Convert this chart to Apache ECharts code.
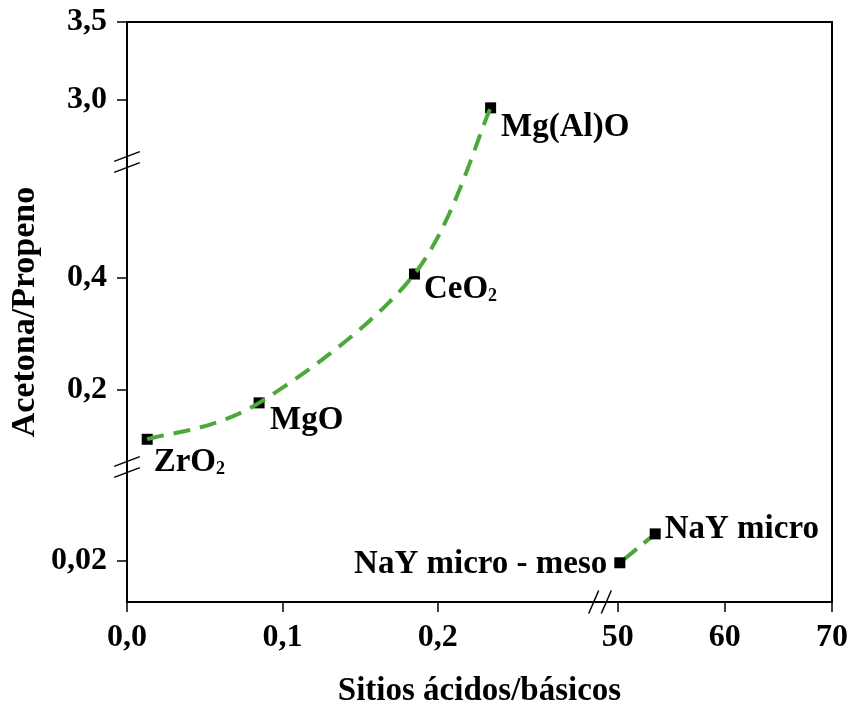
<!DOCTYPE html>
<html>
<head>
<meta charset="utf-8">
<title>Acetona/Propeno vs Sitios ácidos/básicos</title>
<script src="https://cdn.jsdelivr.net/npm/echarts@6/dist/echarts.min.js"></script>
<style>
  html, body { margin: 0; padding: 0; background: #fff; }
  #chart { width: 850px; height: 705px; }
</style>
</head>
<body>
<div id="chart"></div>
<script>
// ---- data -------------------------------------------------------------
// oxides (left piece of the horizontal axis)
const oxideNames  = ['ZrO2', 'MgO', 'CeO2', 'Mg(Al)O'];
const oxideRatio  = [0.013, 0.085, 0.185, 0.234];   // Sitios ácidos/básicos
const oxideSelect = [0.112, 0.177, 0.407, 2.95];    // Acetona/Propeno

// zeolites (right piece of the horizontal axis)
const zeoNames  = ['NaY micro - meso', 'NaY micro'];
const zeoRatio  = [50.2, 53.5];
const zeoSelect = [0.019, 0.033];

// ticks and their printed labels for every axis piece
const xTicksLow   = [0, 0.1, 0.2];
const xLabelsLow  = ['0,0', '0,1', '0,2'];
const xTicksHigh  = [50, 60, 70];
const xLabelsHigh = ['50', '60', '70'];
const yTicksTop   = [3.0, 3.5];
const yLabelsTop  = ['3,0', '3,5'];
const yTicksMid   = [0.2, 0.4];
const yLabelsMid  = ['0,2', '0,4'];
const yTicksLow   = [0.02];
const yLabelsLow  = ['0,02'];

// value extent of each axis piece
const xLowRange  = [0, 0.3044];
const xHighRange = [48.35, 70];
const yTopRange  = [2.603, 3.5];
const yMidRange  = [0.0625, 0.607];
const yLowRange  = [0, 0.0654];

// ---- layout & style ---------------------------------------------------
const FONT  = "'Liberation Serif', 'Times New Roman', Times, serif";
const INK   = '#000';
const GREEN = '#4ca83a';
const frame = { left: 127, right: 832, top: 22, bottom: 602 };
const xCut  = 600;           // horizontal axis break
const yCuts = [162, 467];    // vertical axis breaks, top to bottom

const textBase = { fontFamily: FONT, fontWeight: 'bold', color: INK, opacity: 1 };

function labelFor(ticks, labels) {
  return v => {
    const i = ticks.findIndex(t => Math.abs(t - v) < 1e-9);
    return i < 0 ? '' : labels[i];
  };
}

function grid(left, top, right, bottom) {
  return { left, top, width: right - left, height: bottom - top,
           containLabel: false, outerBoundsMode: 'none' };
}

function pieceAxis(gridIndex, range, ticks, labels) {
  const visible = !!ticks;
  return {
    type: 'value', gridIndex, min: range[0], max: range[1],
    show: visible,
    axisLine: { show: false, onZero: false },
    splitLine: { show: false },
    axisTick: { show: visible, customValues: ticks || [], length: 10,
                lineStyle: { color: INK, width: 1.5 } },
    axisLabel: Object.assign({ show: visible, customValues: ticks || [],
                formatter: labelFor(ticks || [], labels || []),
                margin: 20, fontSize: 32 }, textBase)
  };
}

function frameAxis(position, extra) {
  return Object.assign({
    type: 'value', gridIndex: 0, position, min: 0, max: 1,
    axisLine: { show: true, onZero: false, lineStyle: { color: INK, width: 2 } },
    axisTick: { show: false }, axisLabel: { show: false }, splitLine: { show: false }
  }, extra);
}

const grids = [
  grid(frame.left, frame.top, frame.right, frame.bottom),   // 0: frame
  grid(frame.left, frame.top, xCut, yCuts[0]),              // 1: oxides, upper piece
  grid(frame.left, yCuts[0], xCut, yCuts[1]),               // 2: oxides, middle piece
  grid(frame.left, yCuts[1], xCut, frame.bottom),           // 3: lower-left piece
  grid(xCut, yCuts[1], frame.right, frame.bottom)           // 4: zeolites
];

const xAxes = [
  frameAxis('bottom', {
    name: 'Sitios ácidos/básicos', nameLocation: 'middle', nameGap: 73,
    nameTextStyle: Object.assign({ fontSize: 33 }, textBase)
  }),
  frameAxis('top'),
  pieceAxis(1, xLowRange),
  pieceAxis(2, xLowRange),
  pieceAxis(3, xLowRange, xTicksLow, xLabelsLow),
  pieceAxis(4, xHighRange, xTicksHigh, xLabelsHigh)
];

const yAxes = [
  frameAxis('left', {
    name: 'Acetona/Propeno', nameLocation: 'middle', nameGap: 85,
    nameTextStyle: Object.assign({ fontSize: 34 }, textBase)
  }),
  frameAxis('right'),
  pieceAxis(1, yTopRange, yTicksTop, yLabelsTop),
  pieceAxis(2, yMidRange, yTicksMid, yLabelsMid),
  pieceAxis(3, yLowRange, yTicksLow, yLabelsLow),
  pieceAxis(4, yLowRange)
];

// axis pieces that hold the oxide points
const oxidePieces = [
  { xAxisIndex: 2, yAxisIndex: 2, range: yTopRange },
  { xAxisIndex: 3, yAxisIndex: 3, range: yMidRange }
];
function pieceFor(y) {
  return oxidePieces.find(p => y >= p.range[0] && y <= p.range[1]);
}

// where each name sits around its marker
const labelPlace = {
  'ZrO2':             { side: 'right', dx: 1,   dy: 23 },
  'MgO':              { side: 'right', dx: 5.5, dy: 18 },
  'CeO2':             { side: 'right', dx: 4,   dy: 15 },
  'Mg(Al)O':          { side: 'right', dx: 5,   dy: 20 },
  'NaY micro - meso': { side: 'left',  dx: -7,  dy: 2 },
  'NaY micro':        { side: 'right', dx: 4,   dy: -4 }
};

function pointLabel(name) {
  const p = labelPlace[name];
  return Object.assign({
    show: true, position: p.side, distance: 0, offset: [p.dx, p.dy],
    fontSize: 33,
    formatter: () => name.replace(/O2$/, 'O{sub|2}'),
    rich: { sub: Object.assign({ fontSize: 18, verticalAlign: 'bottom' }, textBase) }
  }, textBase);
}

const markerStyle = { symbol: 'rect', symbolSize: 11, itemStyle: { color: INK, opacity: 1 } };

const series = [];
oxidePieces.forEach(piece => {
  const data = [];
  oxideNames.forEach((n, i) => {
    if (pieceFor(oxideSelect[i]) === piece) {
      data.push({ name: n, value: [oxideRatio[i], oxideSelect[i]], label: pointLabel(n) });
    }
  });
  series.push(Object.assign({
    type: 'scatter', xAxisIndex: piece.xAxisIndex, yAxisIndex: piece.yAxisIndex,
    data, z: 4, silent: true
  }, markerStyle));
});

series.push(Object.assign({
  type: 'line', xAxisIndex: 5, yAxisIndex: 5, z: 4, silent: true,
  showSymbol: true,
  lineStyle: { color: GREEN, width: 4, type: [22, 9] },
  data: zeoNames.map((n, i) => ({ name: n, value: [zeoRatio[i], zeoSelect[i]], label: pointLabel(n) }))
}, markerStyle));

const chart = echarts.init(document.getElementById('chart'), null, { renderer: 'canvas' });
chart.setOption({
  backgroundColor: '#fff',
  animation: false,
  grid: grids,
  xAxis: xAxes,
  yAxis: yAxes,
  series
});

// ---- trend curve through the oxides (spans two axis pieces) -----------
const pts = oxideNames.map((n, i) => {
  const p = pieceFor(oxideSelect[i]);
  return chart.convertToPixel({ xAxisIndex: p.xAxisIndex, yAxisIndex: p.yAxisIndex },
                              [oxideRatio[i], oxideSelect[i]]);
});

function catmullRom(points, steps) {
  const out = [];
  const n = points.length;
  for (let i = 0; i < n - 1; i++) {
    const p0 = points[Math.max(i - 1, 0)];
    const p1 = points[i];
    const p2 = points[i + 1];
    const p3 = points[Math.min(i + 2, n - 1)];
    for (let s = 0; s < steps; s++) {
      const t = s / steps, t2 = t * t, t3 = t2 * t;
      const f = k => 0.5 * ((2 * p1[k]) + (-p0[k] + p2[k]) * t +
        (2 * p0[k] - 5 * p1[k] + 4 * p2[k] - p3[k]) * t2 +
        (-p0[k] + 3 * p1[k] - 3 * p2[k] + p3[k]) * t3);
      out.push([f(0), f(1)]);
    }
  }
  out.push(points[n - 1].slice());
  return out;
}

// axis break marks
function yBreak(x, y) {
  return [-5.5, 5.5].map((o, k) => ({
    type: 'line', id: 'yb' + y + '_' + k, z: 6, silent: true,
    shape: { x1: x - 12.8, y1: y + o + 4.9, x2: x + 12.8, y2: y + o - 4.9 },
    style: { stroke: INK, lineWidth: 1.5 }
  }));
}
function xBreak(x, y) {
  return [-6.3, 6.3].map((o, k) => ({
    type: 'line', id: 'xb' + x + '_' + k, z: 6, silent: true,
    shape: { x1: x + o - 5, y1: y + 11.5, x2: x + o + 5, y2: y - 11.5 },
    style: { stroke: INK, lineWidth: 1.5 }
  }));
}

chart.setOption({
  graphic: [
    {
      type: 'polyline', id: 'trend', z: 5, silent: true,
      shape: { points: catmullRom(pts, 30) },
      style: { stroke: GREEN, lineWidth: 4, lineDash: [17, 10], fill: null }
    }
  ].concat(yBreak(frame.left, yCuts[0]), yBreak(frame.left, yCuts[1]),
           xBreak(xCut, frame.bottom))
});
</script>
</body>
</html>
